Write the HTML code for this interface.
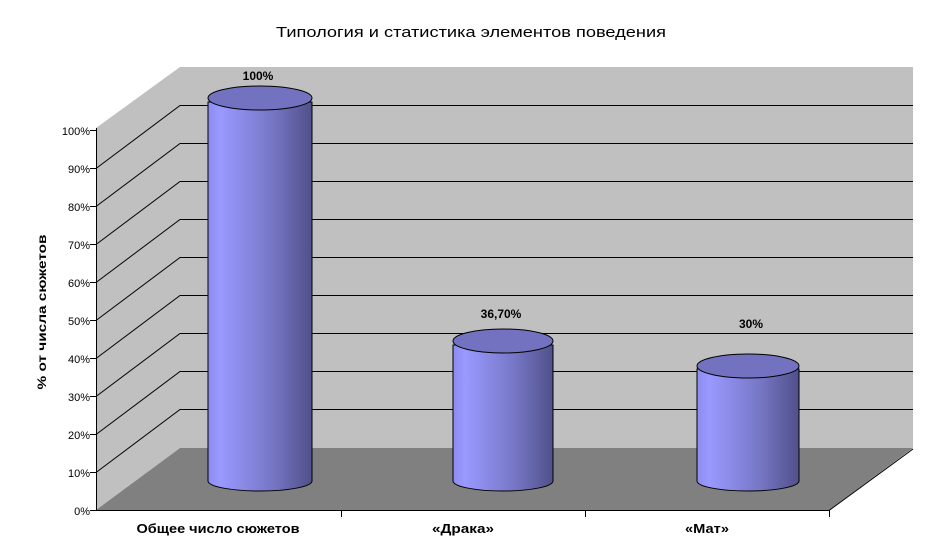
<!DOCTYPE html>
<html><head><meta charset="utf-8"><style>body{margin:0;background:#fff}svg{display:block}text{font-family:"Liberation Sans",Arial,sans-serif}</style></head><body>
<svg width="942" height="557" viewBox="0 0 942 557">
<defs>
<linearGradient id="g" x1="0" x2="1" y1="0" y2="0">
<stop offset="0" stop-color="#8c8cf0"/><stop offset="0.12" stop-color="#9999ff"/><stop offset="0.6" stop-color="#7878c8"/><stop offset="1" stop-color="#50508a"/></linearGradient>
</defs>
<text x="276" y="37" font-size="15" textLength="390" lengthAdjust="spacingAndGlyphs">Типология и статистика элементов поведения</text>
<polygon points="96,128 180,67 180,448 96,510" fill="#c0c0c0"/>
<rect x="180" y="67" width="733" height="381" fill="#c0c0c0"/>
<polygon points="96,510 180,448 913,448 829,510" fill="#808080"/>
<g stroke="#000" stroke-width="1" fill="none">
<path d="M96,472.5L180,409.5H913M96,434.5L180,371.5H913M96,396.5L180,333.5H913M96,358.5L180,295.5H913M96,320.5L180,257.5H913M96,282.5L180,219.5H913M96,244.5L180,181.5H913M96,206.5L180,143.5H913M96,168.5L180,105.5H913"/>
<path d="M96.5,128V510.5H829L913,449"/>
<path d="M90,510.5H96M90,472.5H96M90,434.5H96M90,396.5H96M90,358.5H96M90,320.5H96M90,282.5H96M90,244.5H96M90,206.5H96M90,168.5H96M90,130.5H96"/>
<path d="M341.5,510V517M585.5,510V517M829.5,510V517"/>
</g>
<g font-size="11" text-anchor="end">
<text x="90" y="515">0%</text><text x="90" y="477">10%</text><text x="90" y="439">20%</text><text x="90" y="401">30%</text><text x="90" y="363">40%</text><text x="90" y="325">50%</text><text x="90" y="287">60%</text><text x="90" y="249">70%</text><text x="90" y="211">80%</text><text x="90" y="173">90%</text><text x="90" y="135">100%</text>
</g>
<text transform="translate(46,312) rotate(-90)" font-size="12" font-weight="bold" text-anchor="middle" textLength="155" lengthAdjust="spacingAndGlyphs">% от числа сюжетов</text>
<g font-size="13" font-weight="bold" text-anchor="middle">
<text x="218" y="533" textLength="163" lengthAdjust="spacingAndGlyphs">Общее число сюжетов</text><text x="463" y="533" textLength="62" lengthAdjust="spacingAndGlyphs">«Драка»</text><text x="707" y="533" textLength="44" lengthAdjust="spacingAndGlyphs">«Мат»</text>
<text x="258" y="80" font-size="12">100%</text><text x="501" y="318" font-size="12">36,70%</text><text x="751" y="328" font-size="12">30%</text>
</g>
<g stroke="#000" stroke-width="1">
<path d="M208,102V481A52,10 0 0 0 312,481V102Z" fill="url(#g)"/>
<ellipse cx="260" cy="98" rx="52" ry="12" fill="#7272c0"/>
<path d="M453,345V481A50,10 0 0 0 553,481V345Z" fill="url(#g)"/>
<ellipse cx="503" cy="341" rx="50" ry="12" fill="#7272c0"/>
<path d="M697,369V481A51,10 0 0 0 799,481V369Z" fill="url(#g)"/>
<ellipse cx="748" cy="366" rx="51" ry="12" fill="#7272c0"/>
</g>
</svg>
</body></html>
